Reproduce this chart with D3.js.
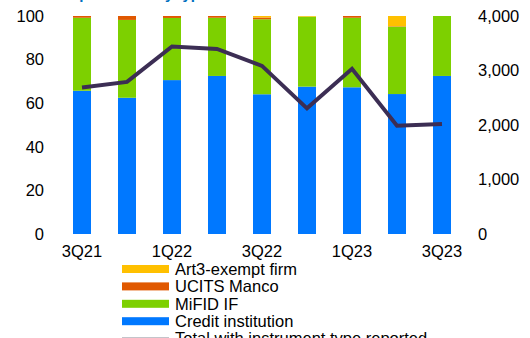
<!DOCTYPE html>
<html>
<head>
<meta charset="utf-8">
<script src="https://cdn.jsdelivr.net/npm/d3@7"></script>
<style>
  body { margin: 0; background: #fff; }
  svg { display: block; font-family: "Liberation Sans", Arial, sans-serif; }
</style>
</head>
<body>
<div id="container"></div>
<script>
// quarters on the x axis
const quarters = ["3Q21", "4Q21", "1Q22", "2Q22", "3Q22", "4Q22", "1Q23", "2Q23", "3Q23"];
const tickLabels = ["3Q21", "1Q22", "3Q22", "1Q23", "3Q23"];

// shares in % (stacked, bottom to top)
const creditInstitution = [65.7, 62.5, 70.6, 72.5, 64.1, 67.6, 67.3, 64.2, 72.5];
const mifidIF          = [33.5, 35.7, 28.5, 26.7, 34.4, 32.1, 31.9, 30.9, 27.5];
const ucitsManco       = [0.8, 1.8, 0.9, 0.8, 0.8, 0.0, 0.8, 0.2, 0.0];
const art3Exempt       = [0.0, 0.0, 0.0, 0.0, 0.7, 0.3, 0.0, 4.7, 0.0];

// total count (right axis)
const totalReported = [2690, 2790, 3440, 3395, 3085, 2305, 3030, 1985, 2020];

const leftTicks = [0, 20, 40, 60, 80, 100];
const rightTicks = [0, 1000, 2000, 3000, 4000];

const width = 530;
const height = 338;
const marginTop = 16;
const marginBottom = 104; // bottom of plot at y=234
const plotLeft = 59.5;
const plotRight = 464.5;

const colors = {
  credit: "#0078ff",
  mifid: "#7dd000",
  ucits: "#e05800",
  art3: "#ffc000",
  total: "#3c2e54"
};

const svg = d3.create("svg")
  .attr("width", width)
  .attr("height", height);

// title (almost entirely above the visible area)
svg.append("text")
  .attr("x", 60)
  .attr("y", -1.5)
  .attr("fill", "#0070c0")
  .style("font-size", "15px")
  .style("font-weight", "bold")
  .text("Reports sent by type");

const x = d3.scaleBand()
  .domain(quarters)
  .range([plotLeft, plotRight])
  .paddingInner(0.6)
  .paddingOuter(0.3);

const y = d3.scaleLinear()
  .domain([0, 100])
  .range([height - marginBottom, marginTop]);

const y2 = d3.scaleLinear()
  .domain([0, 4000])
  .range([height - marginBottom, marginTop]);

// stacked data
const rows = quarters.map((q, i) => ({
  q,
  credit: creditInstitution[i],
  mifid: mifidIF[i],
  ucits: ucitsManco[i],
  art3: art3Exempt[i]
}));
const keys = ["credit", "mifid", "ucits", "art3"];
const series = d3.stack().keys(keys)(rows);

svg.append("g")
  .selectAll("g")
  .data(series)
  .join("g")
  .attr("fill", d => colors[d.key])
  .selectAll("rect")
  .data(d => d)
  .join("rect")
  .attr("x", d => x(d.data.q))
  .attr("width", x.bandwidth())
  .attr("y", d => y(Math.min(100, d[1])))
  .attr("height", d => Math.max(0, y(d[0]) - y(Math.min(100, d[1]))));

// line for totals
const line = d3.line()
  .x((d, i) => x(quarters[i]) + x.bandwidth() / 2)
  .y(d => y2(d));

svg.append("path")
  .datum(totalReported)
  .attr("fill", "none")
  .attr("stroke", colors.total)
  .attr("stroke-width", 4)
  .attr("stroke-linejoin", "miter")
  .attr("d", line);

// left axis
const leftAxis = svg.append("g")
  .attr("transform", `translate(${plotLeft},0)`)
  .call(d3.axisLeft(y).tickValues(leftTicks).tickSize(0).tickPadding(15.5));
leftAxis.select(".domain").remove();
leftAxis.selectAll("text")
  .style("font-size", "16.5px")
  .attr("fill", "#000")
  .style("font-family", "'Liberation Sans', Arial, sans-serif");

// right axis
const rightAxis = svg.append("g")
  .attr("transform", `translate(${plotRight},0)`)
  .call(d3.axisRight(y2).tickValues(rightTicks).tickSize(0).tickPadding(13.5)
    .tickFormat(d3.format(",")));
rightAxis.select(".domain").remove();
rightAxis.selectAll("text")
  .style("font-size", "16.5px")
  .attr("fill", "#000")
  .style("font-family", "'Liberation Sans', Arial, sans-serif");

// bottom axis
const bottomAxis = svg.append("g")
  .attr("transform", `translate(0,${height - marginBottom})`)
  .call(d3.axisBottom(x).tickValues(tickLabels).tickSize(0).tickPadding(11));
bottomAxis.select(".domain").remove();
bottomAxis.selectAll("text")
  .style("font-size", "16.5px")
  .attr("fill", "#000")
  .style("font-family", "'Liberation Sans', Arial, sans-serif");

// legend
const legendItems = [
  { label: "Art3-exempt firm", color: colors.art3, type: "bar" },
  { label: "UCITS Manco", color: colors.ucits, type: "bar" },
  { label: "MiFID IF", color: colors.mifid, type: "bar" },
  { label: "Credit institution", color: colors.credit, type: "bar" },
  { label: "Total with instrument type reported", color: "#8a8a96", type: "line" }
];

const legend = svg.append("g")
  .attr("transform", "translate(122,269)");

const item = legend.selectAll("g")
  .data(legendItems)
  .join("g")
  .attr("transform", (d, i) => `translate(0,${i * 17.4})`);

item.filter(d => d.type === "bar")
  .append("rect")
  .attr("x", 0)
  .attr("y", -4)
  .attr("width", 47)
  .attr("height", 8)
  .attr("fill", d => d.color);

item.filter(d => d.type === "line")
  .append("line")
  .attr("x1", 0)
  .attr("x2", 47)
  .attr("y1", 0)
  .attr("y2", 0)
  .attr("stroke", d => d.color)
  .attr("stroke-width", 2);

item.append("text")
  .attr("x", 53)
  .attr("y", 0)
  .attr("dy", "0.35em")
  .style("font-size", "16.5px")
  .attr("fill", "#000")
  .text(d => d.label);

container.append(svg.node());
</script>
</body>
</html>
